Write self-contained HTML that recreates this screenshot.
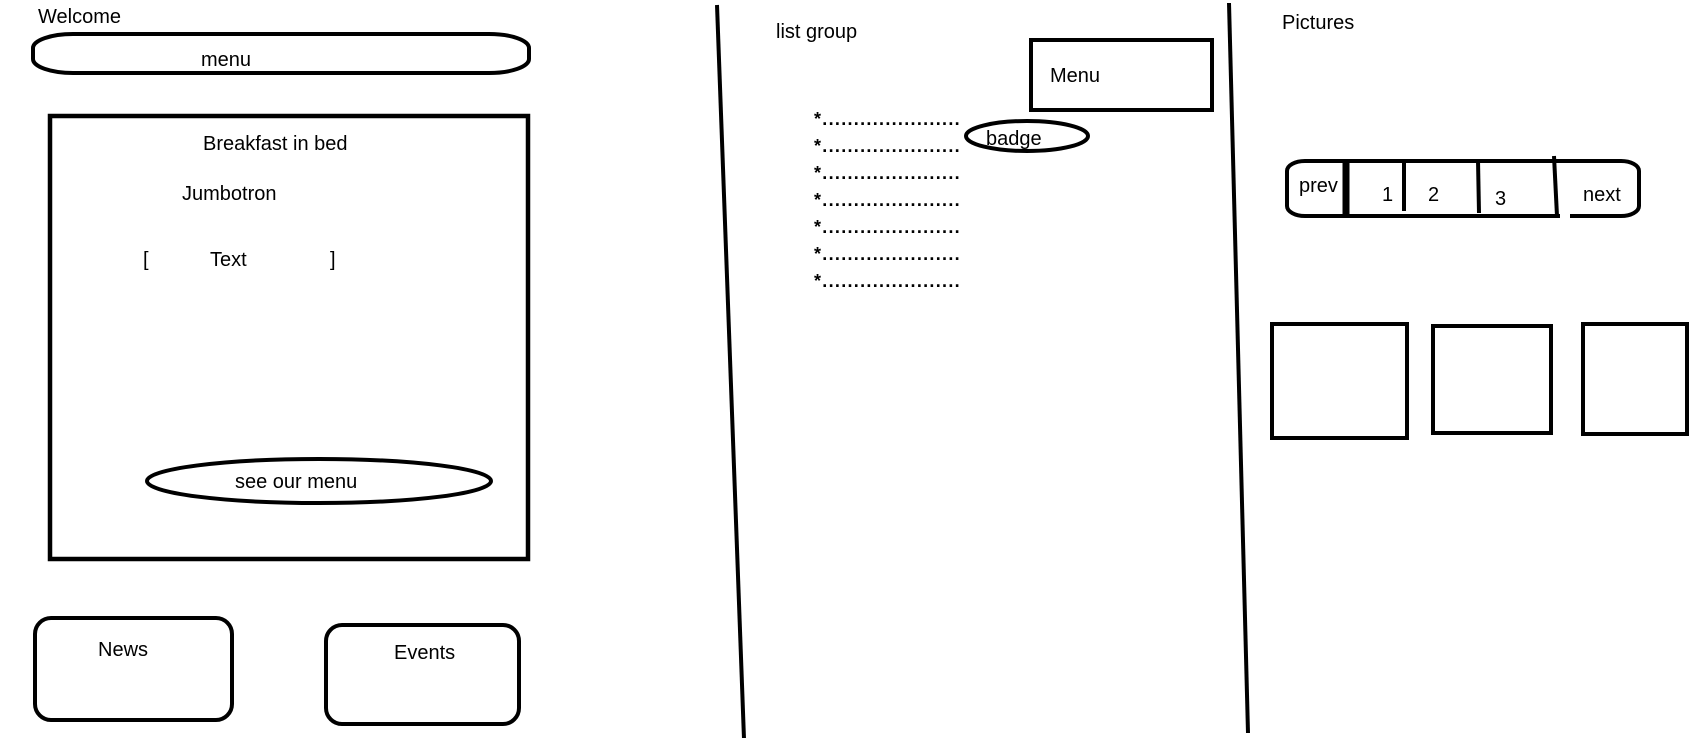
<!DOCTYPE html>
<html><head><meta charset="utf-8"><style>
html,body{margin:0;padding:0;background:#fff;width:1701px;height:738px;overflow:hidden}
svg text{font-family:"Liberation Sans",sans-serif;fill:#000}
</style></head><body>
<svg width="1701" height="738" viewBox="0 0 1701 738" xmlns="http://www.w3.org/2000/svg">
<g fill="none" stroke="#000" stroke-width="4">
<rect x="33" y="34" width="496" height="39" rx="40" ry="14"/>
<rect x="50" y="116" width="478" height="443" stroke-width="4.5"/>
<ellipse cx="319" cy="481" rx="172" ry="22"/>
<rect x="35" y="618" width="197" height="102" rx="16"/>
<rect x="326" y="625" width="193" height="99" rx="16"/>
<line x1="717" y1="5" x2="744" y2="739" stroke-width="4"/>
<line x1="1229" y1="3" x2="1248" y2="733" stroke-width="4"/>
<rect x="1031" y="40" width="181" height="70"/>
<ellipse cx="1027" cy="136" rx="61" ry="15"/>
<g transform="translate(-6,0)">
<rect x="1293" y="161" width="352" height="55" rx="18" ry="10"/>
<line x1="1352" y1="161" x2="1352" y2="216" stroke-width="7"/>
<line x1="1410" y1="160" x2="1410" y2="211"/>
<line x1="1484" y1="160" x2="1485" y2="213"/>
<line x1="1560" y1="156" x2="1563" y2="216"/>
<rect x="1278" y="324" width="135" height="114"/>
<rect x="1439" y="326" width="118" height="107"/>
<rect x="1589" y="324" width="104" height="110"/>
<line x1="1566" y1="216" x2="1576" y2="216" stroke="#fff" stroke-width="6"/>
</g>
</g>
<g font-size="20">
<text x="38" y="23">Welcome</text>
<text x="201" y="66">menu</text>
<text x="203" y="150">Breakfast in bed</text>
<text x="182" y="200">Jumbotron</text>
<text x="143" y="266">[</text>
<text x="210" y="266">Text</text>
<text x="330" y="266">]</text>
<text x="235" y="488">see our menu</text>
<text x="98" y="656">News</text>
<text x="394" y="659">Events</text>
<text x="776" y="38">list group</text>
<text x="1050" y="82">Menu</text>
<text x="986" y="145">badge</text>
<g transform="translate(-6,0)">
<text x="1288" y="29">Pictures</text>
<text x="1305" y="192">prev</text>
<text x="1388" y="201">1</text>
<text x="1434" y="201">2</text>
<text x="1501" y="205">3</text>
<text x="1589" y="201">next</text>
</g>
</g>
<g font-size="18" font-weight="bold" letter-spacing="1.3">
<text x="814" y="125">*......................</text>
<text x="814" y="152">*......................</text>
<text x="814" y="179">*......................</text>
<text x="814" y="206">*......................</text>
<text x="814" y="233">*......................</text>
<text x="814" y="260">*......................</text>
<text x="814" y="287">*......................</text>
</g>
</svg>
</body></html>
